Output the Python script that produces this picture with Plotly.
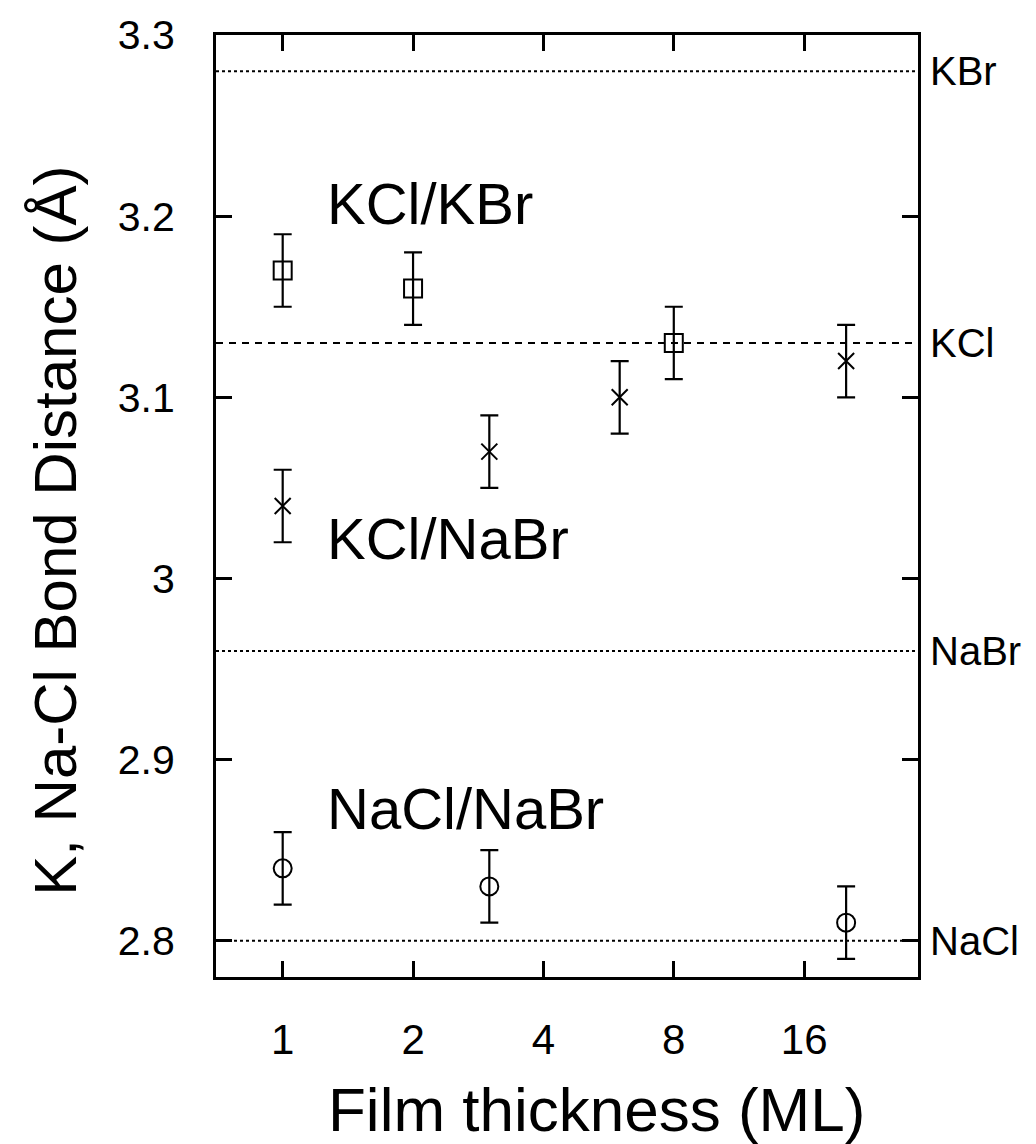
import plotly.graph_objects as go
import math

# --- data ---
kcl_kbr_x = [1, 2, 8]
kcl_kbr_y = [3.17, 3.16, 3.13]
kcl_kbr_err = [0.02, 0.02, 0.02]

kcl_nabr_x = [1, 3, 6, 20]
kcl_nabr_y = [3.04, 3.07, 3.10, 3.12]
kcl_nabr_err = [0.02, 0.02, 0.02, 0.02]

nacl_nabr_x = [1, 3, 20]
nacl_nabr_y = [2.84, 2.83, 2.81]
nacl_nabr_err = [0.02, 0.02, 0.02]

ref_names = ["KBr", "KCl", "NaBr", "NaCl"]
ref_values = [3.28, 3.13, 2.96, 2.80]
ref_dash = ["3px,3px", "7px,6px", "3px,3px", "3px,3px"]

x_ticks = [1, 2, 4, 8, 16]
y_ticks = [2.8, 2.9, 3.0, 3.1, 3.2, 3.3]
y_ticktext = ["2.8", "2.9", "3", "3.1", "3.2", "3.3"]

series_labels = ["KCl/KBr", "KCl/NaBr", "NaCl/NaBr"]
label_pos = [(1.25, 3.207), (1.25, 3.022), (1.25, 2.873)]

FONT = "Liberation Sans, Arial, Helvetica, sans-serif"
BLACK = "black"

fig = go.Figure()

def add_series(x, y, err, symbol, size):
    fig.add_trace(go.Scatter(
        x=x, y=y, mode="markers",
        marker=dict(symbol=symbol, size=size, color=BLACK,
                    line=dict(color=BLACK, width=2)),
        error_y=dict(type="data", array=err, visible=True,
                     color=BLACK, thickness=2.2, width=9),
        showlegend=False,
    ))

add_series(kcl_kbr_x, kcl_kbr_y, kcl_kbr_err, "square-open", 18)
add_series(kcl_nabr_x, kcl_nabr_y, kcl_nabr_err, "x-thin-open", 16)
add_series(nacl_nabr_x, nacl_nabr_y, nacl_nabr_err, "circle-open", 18)

# reference lines + right-side labels
for name, val, dash in zip(ref_names, ref_values, ref_dash):
    fig.add_shape(type="line", xref="x domain", yref="y",
                  x0=0, x1=1, y0=val, y1=val,
                  line=dict(color=BLACK, width=2, dash=dash))
    fig.add_annotation(xref="paper", yref="y", x=1.0, y=val,
                       text=name, showarrow=False, xanchor="left",
                       yanchor="middle", xshift=10,
                       font=dict(family=FONT, size=40, color=BLACK))

# series labels inside the plot
for txt, (lx, ly) in zip(series_labels, label_pos):
    fig.add_annotation(xref="x", yref="y", x=math.log10(lx), y=ly,
                       text=txt, showarrow=False, xanchor="left",
                       yanchor="middle",
                       font=dict(family=FONT, size=58, color=BLACK))

# axis titles
fig.add_annotation(xref="paper", yref="paper", x=0.542, y=-0.1406,
                   text="Film thickness (ML)", showarrow=False,
                   xanchor="center", yanchor="middle",
                   font=dict(family=FONT, size=62, color=BLACK))
fig.add_annotation(xref="paper", yref="paper", x=-0.228, y=0.4736,
                   text="K, Na-Cl Bond Distance (Å)", showarrow=False,
                   textangle=-90, xanchor="center", yanchor="middle",
                   font=dict(family=FONT, size=60, color=BLACK))

fig.update_xaxes(
    type="log", range=[-0.154, 1.467],
    tickvals=x_ticks, ticktext=[str(v) for v in x_ticks],
    ticks="inside", ticklen=16, tickwidth=2.5, tickcolor=BLACK,
    showline=True, linecolor=BLACK, linewidth=3, mirror="ticks",
    showgrid=False, zeroline=False,
    tickfont=dict(family=FONT, size=42, color=BLACK),
    ticklabelstandoff=24,
)
fig.update_yaxes(
    range=[2.78, 3.30],
    tickvals=y_ticks, ticktext=y_ticktext,
    ticks="inside", ticklen=16, tickwidth=2.5, tickcolor=BLACK,
    showline=True, linecolor=BLACK, linewidth=3, mirror="ticks",
    showgrid=False, zeroline=False,
    tickfont=dict(family=FONT, size=41, color=BLACK),
    ticklabelstandoff=30,
)

fig.update_layout(
    width=1036, height=1144,
    margin=dict(l=216, r=118, t=31, b=167),
    plot_bgcolor="white", paper_bgcolor="white",
    showlegend=False,
)

fig.write_html("out.html")
